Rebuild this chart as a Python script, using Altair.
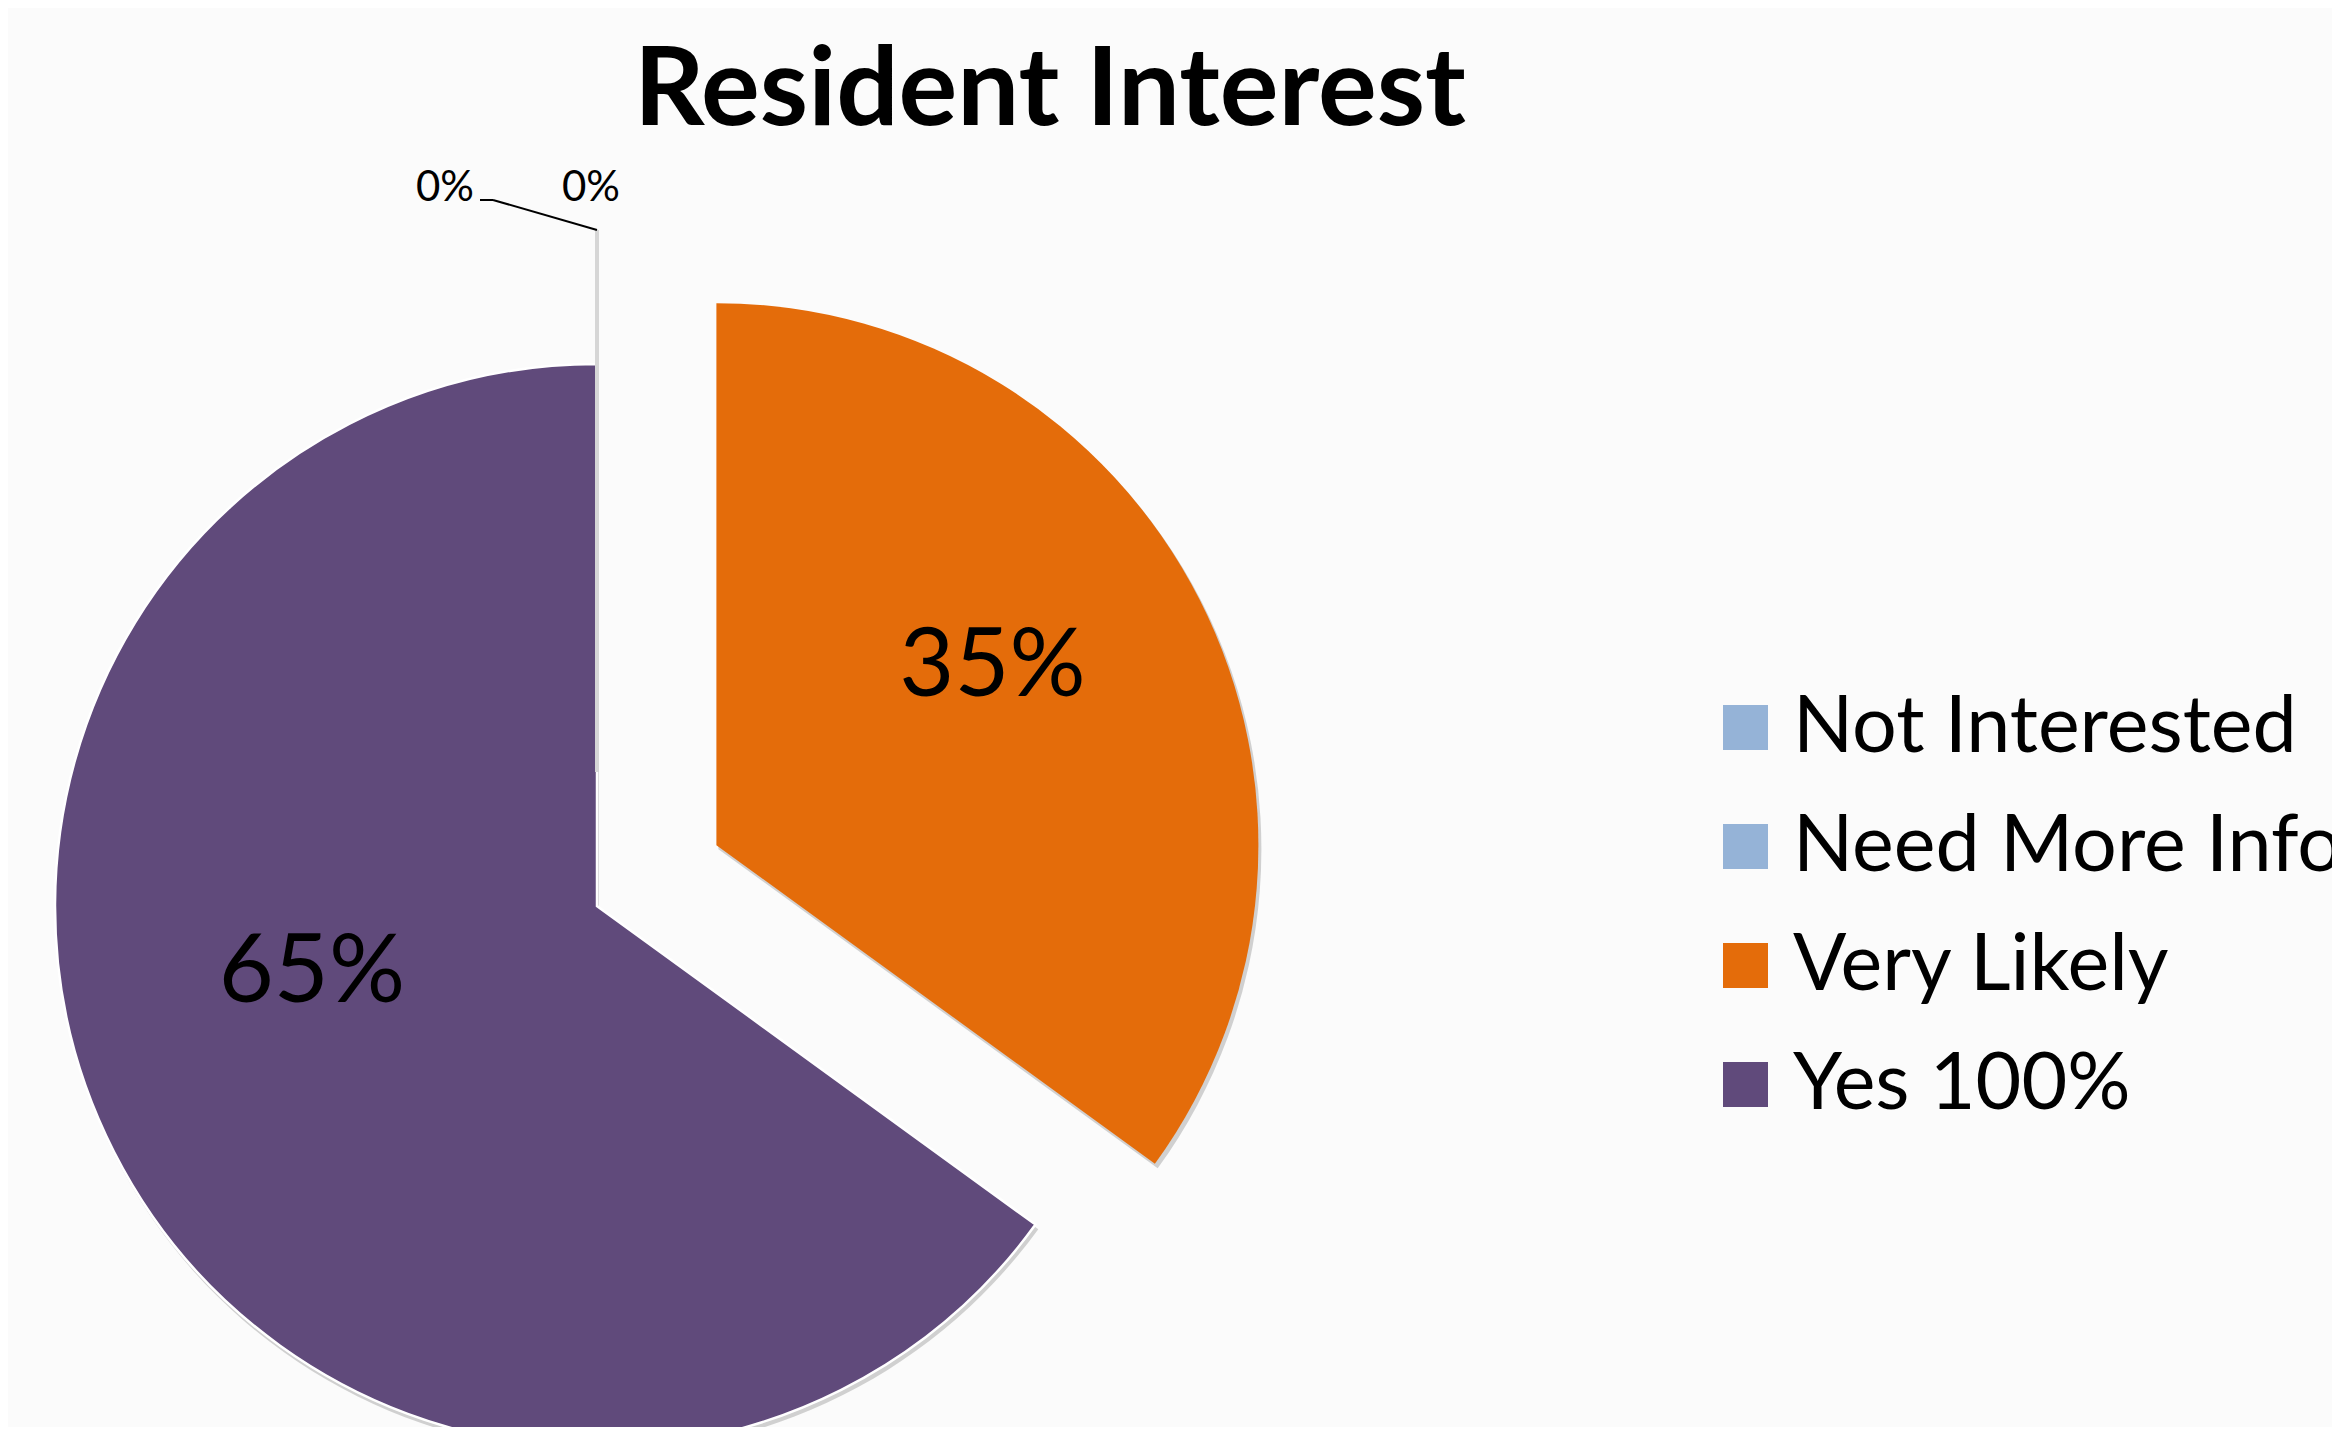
import altair as alt
import pandas as pd

# ---- data ----
names = ["Not Interested", "Need More Info", "Very Likely", "Yes 100%"]
pct = [0, 0, 35, 65]
labels = ["0%", "0%", "35%", "65%"]
colors = ["#95B3D7", "#95B3D7", "#E46C0A", "#604A7B"]

df = pd.DataFrame({"name": names, "pct": pct, "label": labels, "order": list(range(len(names)))})

W, H = 2324, 1419
CX, CY = 589, 898      # pie centre
R = 542                # pie radius
EXPLODE = 134          # explosion distance for exploded slices
LR = 320               # label radius
FONT = "Lato"

base = (
    alt.Chart(df)
    .transform_window(cum="sum(pct)", sort=[alt.SortField("order")], frame=[None, 0])
    .transform_calculate(start="(datum.cum - datum.pct) / 100 * 2 * PI")
    .transform_calculate(end="datum.cum / 100 * 2 * PI")
    .transform_calculate(mid="(datum.start + datum.end) / 2")
    .transform_calculate(ex=f"datum.name == 'Yes 100%' ? 0 : {EXPLODE}")
    .transform_calculate(cx=f"{CX} + datum.ex * sin(datum.mid)")
    .transform_calculate(cy=f"{CY} - datum.ex * cos(datum.mid)")
    .transform_calculate(lx=f"datum.cx + {LR} * sin(datum.mid)")
    .transform_calculate(ly=f"datum.cy - {LR} * cos(datum.mid)")
    .transform_calculate(tipx=f"datum.cx + {R} * sin(datum.mid)")
    .transform_calculate(tipy=f"datum.cy - {R} * cos(datum.mid)")
)

color_enc = alt.Color(
    "name:N",
    scale=alt.Scale(domain=names, range=colors),
    legend=alt.Legend(
        title=None,
        orient="none",
        legendX=1698,
        legendY=680,
        symbolType="square",
        symbolSize=2025,
        symbolStrokeWidth=0,
        symbolOpacity=1,
        labelFont=FONT,
        labelFontSize=79,
        labelColor="black",
        labelOffset=8,
        labelLimit=2000,
        rowPadding=39,
    ),
)

pos = dict(
    x=alt.X("cx:Q", scale=None),
    y=alt.Y("cy:Q", scale=None),
    theta=alt.Theta("start:Q", scale=None),
    theta2=alt.Theta2("end:Q"),
)

shadow = (
    base.transform_filter("datum.pct > 0")
    .transform_calculate(sx="datum.cx + 2", sy="datum.cy + 4")
    .mark_arc(radius=R + 1, color="#808080", opacity=0.35)
    .encode(
        x=alt.X("sx:Q", scale=None),
        y=alt.Y("sy:Q", scale=None),
        theta=alt.Theta("start:Q", scale=None),
        theta2=alt.Theta2("end:Q"),
    )
)

purple = (
    base.transform_filter("datum.ex == 0")
    .mark_arc(radius=R, stroke="white", strokeWidth=2.5)
    .encode(color=color_enc, **pos)
)

orange = (
    base.transform_filter("datum.ex > 0 && datum.pct > 0")
    .mark_arc(radius=R)
    .encode(color=color_enc, **pos)
)

zeros = (
    base.transform_filter("datum.pct == 0")
    .mark_arc(radius=R, stroke="#D6D6D6", strokeWidth=4)
    .encode(color=color_enc, **pos)
)

lab35 = (
    base.transform_filter("datum.ex > 0 && datum.pct > 0")
    .mark_text(font=FONT, fontSize=95, color="black", align="center", baseline="middle", dx=-9, dy=-33)
    .encode(x=alt.X("lx:Q", scale=None), y=alt.Y("ly:Q", scale=None), text="label:N")
)

lab65 = (
    base.transform_filter("datum.ex == 0")
    .mark_text(font=FONT, fontSize=95, color="black", align="center", baseline="middle", dx=0, dy=-78)
    .encode(x=alt.X("lx:Q", scale=None), y=alt.Y("ly:Q", scale=None), text="label:N")
)

zero_labels = (
    base.transform_filter("datum.pct == 0")
    .transform_calculate(zx="datum.tipx + (datum.order == 0 ? -152 : -6)")
    .transform_calculate(zy="datum.tipy - 42")
    .mark_text(font=FONT, fontSize=42, color="black", align="center", baseline="middle")
    .encode(x=alt.X("zx:Q", scale=None), y=alt.Y("zy:Q", scale=None), text="label:N")
)

leader1 = (
    base.transform_filter("datum.order == 0")
    .transform_calculate(ex2="datum.tipx - 104", ey2="datum.tipy - 30")
    .mark_rule(color="black", strokeWidth=2)
    .encode(
        x=alt.X("tipx:Q", scale=None),
        y=alt.Y("tipy:Q", scale=None),
        x2="ex2:Q",
        y2="ey2:Q",
    )
)

leader2 = (
    base.transform_filter("datum.order == 0")
    .transform_calculate(ex2="datum.tipx - 104", ey2="datum.tipy - 30", ex3="datum.tipx - 117")
    .mark_rule(color="black", strokeWidth=2)
    .encode(
        x=alt.X("ex2:Q", scale=None),
        y=alt.Y("ey2:Q", scale=None),
        x2="ex3:Q",
        y2="ey2:Q",
    )
)

chart = (
    alt.layer(shadow, purple, orange, zeros, lab35, lab65, leader1, leader2, zero_labels)
    .properties(
        width=W,
        height=H,
        padding=0,
        autosize=alt.AutoSizeParams(type="none"),
        background="#FBFBFB",
        title=alt.TitleParams(
            "Resident Interest",
            font=FONT,
            fontSize=110,
            fontWeight="bold",
            color="black",
            anchor="middle",
            dx=-120,
            offset=-227,
            baseline="alphabetic",
        ),
    )
    .configure_view(stroke=None)
)

chart.save("out.html", embed_options={"renderer": "svg", "actions": False})
